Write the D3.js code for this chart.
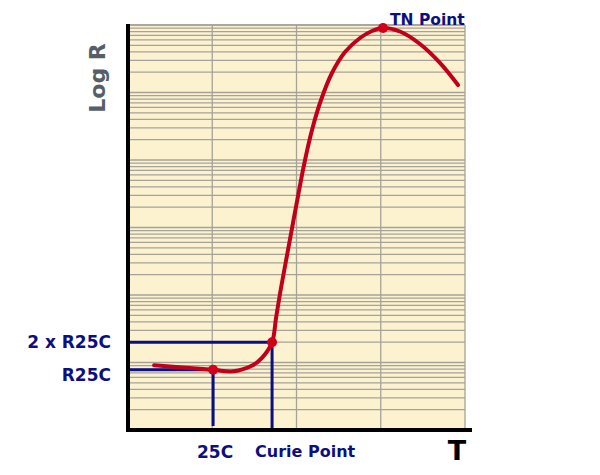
<!DOCTYPE html>
<html>
<head>
<meta charset="utf-8">
<script src="https://cdn.jsdelivr.net/npm/d3@7"></script>
<style>
html,body{margin:0;padding:0;background:#fff;}
svg{display:block;}
</style>
</head>
<body>
<svg id="chart" width="600" height="475"></svg>
<script>
// Temperature position (in grid columns) and resistance (log paper) of the curve
const curveT = [0.31, 1.01, 1.25, 1.48, 1.59, 1.71, 1.757, 1.816, 1.899, 1.994, 2.089, 2.184, 2.291, 2.421, 2.576, 2.754, 2.896, 3.027, 3.228, 3.466, 3.703, 3.917];
const curveR = [9.1, 7.8, 7.4, 9.1, 11.7, 20, 45.6, 127, 464, 2013, 8430, 27800, 77400, 194500, 398000, 642000, 815000, 903000, 801000, 523000, 274000, 129000];
// Marked points
const markNames = ["R25C", "Curie", "TN"];
const markT = [1.01, 1.71, 3.027];
const markR = [7.8, 20, 903000];
// Labels
const yLabels = ["2 x R25C", "R25C"];
const xLabels = ["25C", "Curie Point"];
const xDomain = [0, 4];
const yDomain = [1, 1e6];

(function () {
const svg = d3.select("#chart");
const pL = 128, pR = 465, pT = 25, pB = 430;
const x = d3.scaleLinear().domain(xDomain).range([pL, pR]);
const y = d3.scaleLog().domain(yDomain).range([pB, pT]);

const navy = "#0c0f80";
const red = "#c0001a";
const font = "'DejaVu Sans', sans-serif";

// background
svg.append("rect").attr("x", pL).attr("y", pT).attr("width", pR - pL).attr("height", pB - pT).attr("fill", "#fdf2d0");

// horizontal log grid
const yTicks = y.ticks();
svg.append("g").selectAll("line").data(yTicks).join("line")
  .attr("x1", pL).attr("x2", pR)
  .attr("y1", d => y(d)).attr("y2", d => y(d))
  .attr("stroke", "#a5a298").attr("stroke-width", 1.3);
// vertical grid
const xTicks = d3.range(xDomain[0] + 1, xDomain[1] + 1);
svg.append("g").selectAll("line").data(xTicks).join("line")
  .attr("x1", d => x(d)).attr("x2", d => x(d))
  .attr("y1", pT).attr("y2", pB)
  .attr("stroke", "#a5a298").attr("stroke-width", 1.3);
svg.append("line").attr("x1", pL).attr("x2", pR).attr("y1", y(yDomain[1])).attr("y2", y(yDomain[1]))
  .attr("stroke", "#a5a298").attr("stroke-width", 1.3);

// navy reference lines
const iR = 0, iC = 1;
svg.append("path").attr("fill", "none").attr("stroke", navy).attr("stroke-width", 3)
  .attr("d", `M${pL},${y(markR[iR])}H${x(markT[iR])}V${pB - 4}`);
svg.append("path").attr("fill", "none").attr("stroke", navy).attr("stroke-width", 3)
  .attr("d", `M${pL},${y(markR[iC])}H${x(markT[iC])}V${pB}`);

// axes
svg.append("line").attr("x1", pL).attr("x2", pL).attr("y1", pT - 1).attr("y2", pB + 2)
  .attr("stroke", "#000").attr("stroke-width", 4);
svg.append("line").attr("x1", pL - 2).attr("x2", 472).attr("y1", pB).attr("y2", pB)
  .attr("stroke", "#000").attr("stroke-width", 4);

// curve
const data = curveT.map((t, i) => [t, curveR[i]]);
const line = d3.line().x(d => x(d[0])).y(d => y(d[1])).curve(d3.curveCatmullRom.alpha(0.5));
svg.append("path").datum(data).attr("d", line)
  .attr("fill", "none").attr("stroke", red).attr("stroke-width", 4).attr("stroke-linecap", "round");

// markers
svg.append("g").selectAll("circle").data(markT).join("circle")
  .attr("cx", d => x(d)).attr("cy", (d, i) => y(markR[i])).attr("r", 5).attr("fill", "#d0001a");

// labels
const lab = (sel, size, color) => sel.attr("font-family", font).attr("font-weight", 700)
  .attr("font-size", size).attr("fill", color);
lab(svg.append("text").attr("x", 111).attr("y", y(markR[iC])).attr("dy", "0.36em").attr("text-anchor", "end"), 17, navy).text(yLabels[0]);
lab(svg.append("text").attr("x", 111).attr("y", y(markR[iR]) + 5).attr("dy", "0.36em").attr("text-anchor", "end"), 17, navy).text(yLabels[1]);
lab(svg.append("text").attr("x", x(markT[iR]) + 2).attr("y", 458).attr("text-anchor", "middle"), 17, navy).text(xLabels[0]);
lab(svg.append("text").attr("x", 255).attr("y", 457).attr("text-anchor", "start"), 16, navy).text(xLabels[1]);
lab(svg.append("text").attr("x", 390).attr("y", 24.5), 15.5, navy).text("TN Point");
lab(svg.append("text").attr("x", 457).attr("y", 460).attr("text-anchor", "middle"), 27, "#000").text("T");
lab(svg.append("text").attr("transform", "translate(105,78) rotate(-90)").attr("text-anchor", "middle"), 22, "#555e69").text("Log R");
})();
</script>
</body>
</html>
